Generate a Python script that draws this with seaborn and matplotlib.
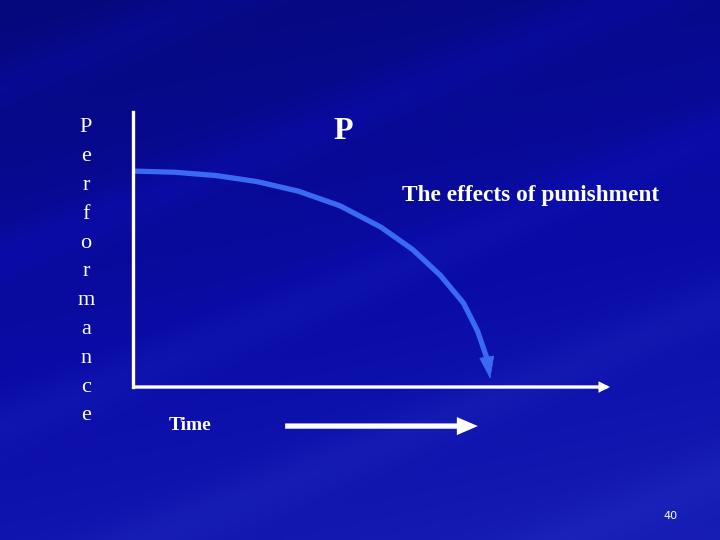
import numpy as np
import pandas as pd
import matplotlib.pyplot as plt
import seaborn as sns
from matplotlib.colors import LinearSegmentedColormap

# curve (time vs performance, arbitrary units 0-10)
time = [0.05, 0.87, 1.74, 2.60, 3.47, 4.34, 5.20, 5.87, 6.45, 6.93, 7.22, 7.42, 7.49]
perf = [7.85, 7.81, 7.69, 7.47, 7.12, 6.59, 5.81, 4.99, 4.05, 3.05, 2.05, 1.05, 0.30]
ylabel = "Performance"
title = "P"
note = "The effects of punishment"
xlabel = "Time"
page = "40"

df = pd.DataFrame({"time": time[:-1], "perf": perf[:-1]})

sns.set_style("white")
plt.rcParams['font.family'] = ['Liberation Serif', 'DejaVu Serif']

fig = plt.figure(figsize=(7.2, 5.4), dpi=100)
fig.patch.set_facecolor("#0808a0")

# background gradient of the slide
bg = fig.add_axes([0, 0, 1, 1])
yy, xx = np.mgrid[0:1:200j, 0:1:200j]
grad = 0.55 * yy + 0.15 * xx + 0.12 * np.sin(9 * (xx * 0.6 + yy * 1.1)) ** 8
cmap = LinearSegmentedColormap.from_list("slide", ["#05087a", "#0a0ca8", "#1a22b8"])
bg.imshow(grad, cmap=cmap, aspect="auto", extent=[0, 1, 0, 1], origin="upper")
bg.axis("off")

ax = fig.add_axes([0.1847, 0.2833, 0.6625, 0.5093])
ax.set_facecolor("none")
sns.lineplot(data=df, x="time", y="perf", ax=ax, color="#3b6af2", lw=3.8,
             solid_joinstyle="round", solid_capstyle="round")
# arrow head at end of curve
ax.annotate("", xy=(time[-1], perf[-1]), xytext=(time[-2], perf[-2]),
            arrowprops=dict(arrowstyle="-|>,head_length=0.5,head_width=0.17",
                            color="#3b6af2", lw=0.5, mutation_scale=30,
                            shrinkA=0, shrinkB=0),
            annotation_clip=False)
ax.set_xlim(0, 10)
ax.set_ylim(0, 10)
ax.set_xticks([])
ax.set_yticks([])
ax.set_xlabel("")
ax.set_ylabel("")
for s in ["top", "right", "bottom"]:
    ax.spines[s].set_visible(False)
ax.spines["left"].set_color("white")
ax.spines["left"].set_linewidth(2.4)

# x axis with arrow
ax.annotate("", xy=(10, 0), xytext=(0.05, 0),
            arrowprops=dict(arrowstyle="-|>", color="white", lw=2.4,
                            mutation_scale=11, shrinkA=0, shrinkB=0,
                            joinstyle="miter"),
            annotation_clip=False)
# time arrow below
ax.annotate("", xy=(7.23, -1.42), xytext=(3.19, -1.42),
            arrowprops=dict(arrowstyle="-|>,head_length=0.7,head_width=0.3",
                            color="white", lw=3.8, mutation_scale=12,
                            shrinkA=0, shrinkB=0, capstyle="butt",
                            joinstyle="miter"),
            annotation_clip=False)

ax.text(4.4, 9.3, title, color="white", fontsize=23, fontweight="bold",
        ha="center", va="center")
ax.text(8.34, 6.95, note, color="white", fontsize=16.8, fontweight="bold",
        ha="center", va="center")
fig.text(190 / 720, 1 - 425 / 540, xlabel, color="white", fontsize=14,
         fontweight="bold", ha="center", va="center")

for i, ch in enumerate(ylabel):
    fig.text(86 / 720, 1 - (128 + i * 28.8) / 540, ch, color="white",
             fontsize=16, ha="center", va="center")

fig.text(670 / 720, 1 - 516 / 540, page, color="white", fontsize=8,
         family="DejaVu Sans", ha="center", va="center")

fig.savefig("out.png", dpi=100, facecolor=fig.get_facecolor())
